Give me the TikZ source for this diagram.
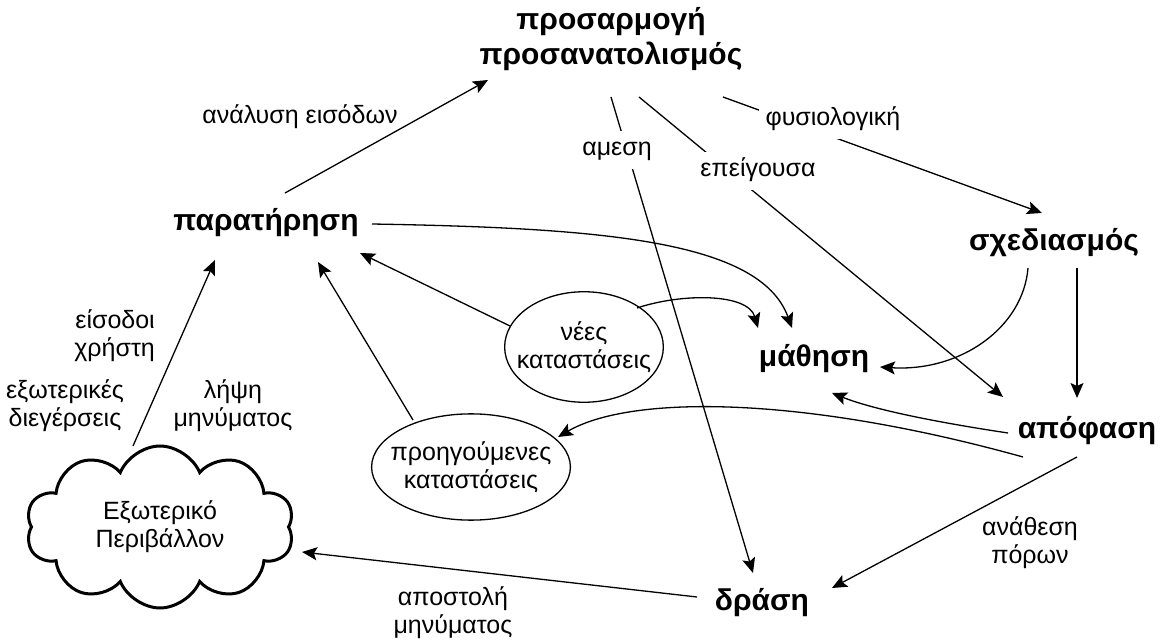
\documentclass[tikz,border=0pt]{standalone}
\usepackage{fontspec}
\setmainfont{Liberation Sans}
\usetikzlibrary{arrows.meta,shapes.geometric,shapes.symbols}
\begin{document}
\begin{tikzpicture}[x=1pt,y=-1pt,
  key/.style={font=\bfseries\fontsize{30}{35}\selectfont, inner sep=0pt, align=center},
  keyword/.style={key, text height=22pt, text depth=7pt},
  lbl/.style={font=\fontsize{25}{28}\selectfont, inner sep=0pt, align=center},
  lblone/.style={lbl, text height=18pt, text depth=6pt},
  tag/.style={font=\fontsize{25}{28}\selectfont, fill=white, inner sep=7pt, text height=18pt, text depth=6pt},
  state/.style={ellipse, draw, line width=1.3pt, font=\fontsize{25}{28}\selectfont, align=center},
  link/.style={line width=1.3pt, -{Stealth[length=15pt,width=13pt,inset=3pt]}}]
\useasboundingbox (0,0) rectangle (1160,644);

% main stages
\node[key] (top) at (611,39.5) {προσαρμογή\\προσανατολισμός};
\node[keyword] (obs) at (266,223) {παρατήρηση};
\node[keyword] (plan) at (1054,243) {σχεδιασμός};
\node[keyword] (learn) at (814,359) {μάθηση};
\node[keyword] (dec) at (1087,431) {απόφαση};
\node[keyword] (act) at (762,603) {δράση};

% states and environment (tight ellipses around the text)
\node[state, inner xsep=-11pt, inner ysep=13.5pt] (new) at (584,347) {νέες\\καταστάσεις};
\node[state, inner xsep=-10pt, inner ysep=12pt] (prev) at (471,467) {προηγούμενες\\καταστάσεις};
\node[cloud, draw, line width=3pt, cloud puffs=10, cloud puff arc=135, aspect=1.7,
      minimum width=268pt, minimum height=162pt, inner sep=0pt,
      font=\fontsize{25}{28}\selectfont, align=center] (env) at (160,527) {Εξωτερικό\\Περιβάλλον};

% connectors
\draw[link] ([shift={(19,-30)}]obs.center) -- ([shift={(-123,40.5)}]top.center);
\draw[link] ([shift={(-27,-81)}]env.center) -- ([shift={(-51,37)}]obs.center);
\draw[link] ([shift={(-58,-47)}]prev.center) -- ([shift={(52,39)}]obs.center);
\draw[link] ([shift={(-74,-21)}]new.center) -- ([shift={(94,30)}]obs.center);
\draw[link] ([shift={(106,1)}]obs.center) .. controls +(228,4) and +(-32,-88) .. ([shift={(-22,-31)}]learn.center);
\draw[link] ([shift={(53,-39)}]new.center) .. controls +(45,-15) and +(-10,-35) .. ([shift={(-56,-31)}]learn.center);
\draw[link] ([shift={(-26,25)}]plan.center) .. controls +(-5,60) and +(80,5) .. ([shift={(66,8)}]learn.center);
\draw[link] ([shift={(23,25)}]plan.center) -- ([shift={(-10,-33)}]dec.center);
\draw[link] ([shift={(112,57.5)}]top.center) -- ([shift={(-12,-30)}]plan.center);
\draw[link] ([shift={(0,57.5)}]top.center) -- ([shift={(-9,-30)}]act.center);
\draw[link] ([shift={(28,57.5)}]top.center) -- ([shift={(-84,-34)}]dec.center);
\draw[link] ([shift={(-79,2)}]dec.center) .. controls +(-60,-9) and +(45,18) .. ([shift={(18,34)}]learn.center);
\draw[link] ([shift={(-64,26)}]dec.center) .. controls +(-223,-62) and +(72,-42) .. ([shift={(87,-30)}]prev.center);
\draw[link] ([shift={(-10,26)}]dec.center) -- ([shift={(70,-15)}]act.center);
\draw[link] ([shift={(-65,-6)}]act.center) -- ([shift={(142,25)}]env.center);

% connector labels
\node[lblone] (l-in) at (300,118) {ανάλυση εισόδων};
\node[lbl, align=right, anchor=east] (l-user) at (155,336) {είσοδοι\\χρήστη};
\node[lbl] (l-stim) at (65,406) {εξωτερικές\\διεγέρσεις};
\node[lbl] (l-recv) at (233,406) {λήψη\\μηνύματος};
\node[lbl] (l-send) at (453,613) {αποστολή\\μηνύματος};
\node[lbl] (l-alloc) at (1030,543) {ανάθεση\\πόρων};
\node[tag] (l-phys) at (833,120) {φυσιολογική};
\node[tag] (l-imm) at (617,150) {αμεση};
\node[tag] (l-urg) at (758,171) {επείγουσα};
\end{tikzpicture}
\end{document}
